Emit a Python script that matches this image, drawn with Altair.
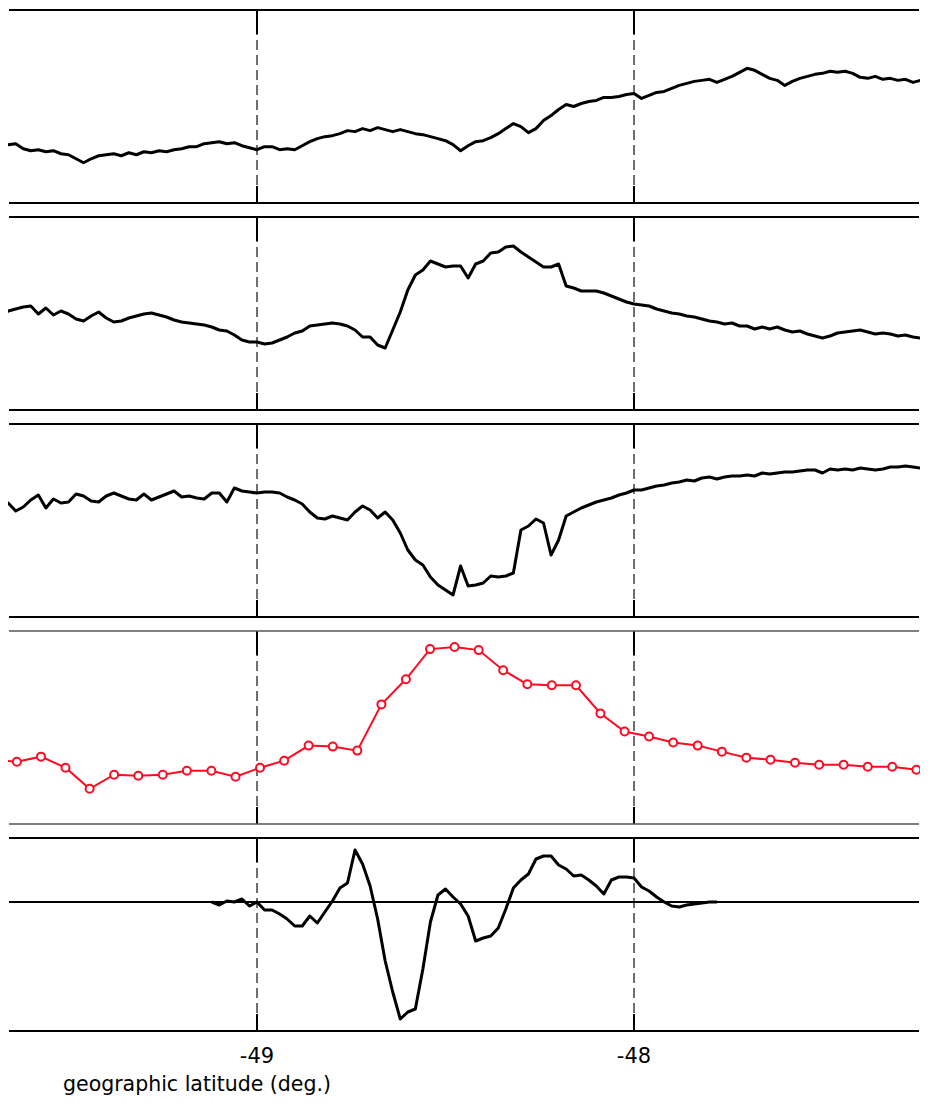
import altair as alt
import pandas as pd

# ---------------- data ----------------
# regular latitude sampling of the satellite traces (deg.)
GRID_START = -49.68
GRID_STEP = 0.02

# panel 1 (arbitrary units)
p1 = [55, 58, 59, 54, 52, 53, 51, 52, 49, 48,
      44, 40, 44, 47, 48, 49, 47, 50, 48, 51,
      50, 52, 51, 53, 54, 56, 56, 59, 60, 61,
      59, 60, 57, 55, 53, 56, 56, 53, 54, 53,
      57, 61, 64, 66, 67, 69, 72, 71, 74, 72,
      75, 73, 71, 73, 71, 69, 68, 66, 64, 62,
      58, 52, 57, 61, 62, 65, 69, 74, 79, 76,
      70, 74, 82, 87, 93, 98, 96, 99, 101, 102,
      105, 105, 106, 108, 109, 104, 107, 110, 111, 114,
      117, 119, 121, 122, 123, 120, 123, 126, 130, 134,
      132, 128, 124, 122, 117, 121, 124, 126, 128, 129,
      131, 130, 131, 129, 125, 124, 126, 123, 124, 122,
      123, 120, 122, 120]

# panel 2
p2 = [92, 99, 101, 103, 104, 96, 102, 95, 99, 96,
      91, 89, 94, 98, 92, 88, 89, 92, 94, 96,
      97, 95, 93, 90, 88, 87, 86, 85, 83, 80,
      79, 75, 70, 68, 68, 66, 67, 70, 73, 77,
      79, 84, 85, 86, 87, 86, 84, 80, 73, 73,
      65, 62, 80, 98, 120, 135, 140, 149, 146, 143,
      144, 144, 132, 146, 149, 157, 158, 163, 164, 158,
      153, 148, 143, 143, 146, 124, 122, 119, 119, 119,
      117, 114, 111, 108, 106, 105, 104, 101, 99, 97,
      96, 94, 93, 91, 89, 88, 86, 87, 84, 84,
      81, 83, 81, 83, 80, 78, 79, 76, 74, 72,
      74, 77, 78, 79, 80, 78, 76, 77, 76, 74,
      75, 73, 72, 73]

# panel 3
p3 = [115, 114, 106, 110, 117, 122, 109, 118, 114, 115,
      123, 121, 116, 115, 121, 124, 121, 118, 117, 123,
      117, 120, 123, 126, 120, 121, 119, 118, 124, 124,
      115, 129, 126, 125, 124, 125, 125, 124, 120, 117,
      113, 105, 99, 98, 101, 99, 97, 105, 111, 107,
      99, 105, 97, 84, 67, 57, 52, 40, 32, 27,
      22, 51, 31, 32, 34, 41, 40, 41, 44, 87,
      91, 98, 94, 62, 77, 101, 105, 109, 112, 115,
      117, 119, 122, 124, 127, 127, 129, 131, 132, 134,
      135, 137, 136, 139, 140, 138, 140, 141, 141, 142,
      141, 144, 143, 144, 145, 145, 146, 147, 147, 144,
      148, 147, 148, 147, 149, 148, 147, 148, 150, 150,
      151, 150, 149, 149]

# panel 4 (red, sampled points)
p4_lat = [-49.702, -49.637, -49.573, -49.508, -49.444, -49.379, -49.315, -49.250,
          -49.186, -49.121, -49.057, -48.992, -48.928, -48.863, -48.799, -48.734,
          -48.670, -48.605, -48.541, -48.476, -48.412, -48.347, -48.283, -48.218,
          -48.154, -48.089, -48.025, -47.960, -47.896, -47.831, -47.767, -47.702,
          -47.638, -47.573, -47.509, -47.444, -47.380, -47.315, -47.251]
p4_val = [64, 62, 67, 56, 35, 49, 48, 49,
          53, 53, 47, 56, 63, 78, 77, 73,
          119, 144, 174, 176, 173, 153, 139, 138,
          138, 110, 92, 87, 81, 78, 72, 66,
          64, 61, 59, 59, 57, 57, 54]

# panel 5 (signed, starts at sample index 28)
P5_START = 28
p5 = [0, -3, 1, 0, 3, -4, 0, -8, -8, -12,
      -17, -24, -24, -14, -21, -10, 1, 14, 19, 52,
      38, 16, -17, -59, -90, -117, -110, -107, -67, -20,
      7, 13, 5, -2, -14, -39, -36, -34, -26, -7,
      14, 22, 28, 43, 46, 46, 37, 33, 26, 27,
      22, 16, 8, 22, 25, 25, 24, 15, 11, 5,
      0, -4, -5, -3, -2, -1, 0, 0]

tick_values = [-49, -48]
tick_labels = ["-49", "-48"]
x_title = "geographic latitude (deg.)"

# ---------------- chart ----------------
lat_grid = [round(GRID_START + GRID_STEP * i, 2) for i in range(len(p1))]

X_DOMAIN = [-49.6605, -47.2414]
W = 912
H = 193
RED = "#ff0a22"
FONT = "DejaVu Sans"

xscale = alt.Scale(domain=X_DOMAIN, nice=False, zero=False)
ticks_df = pd.DataFrame({"lat": tick_values, "label": tick_labels})
one_df = pd.DataFrame({"v": [0]})
title_df = pd.DataFrame({"t": [x_title]})


def decorations(frame_color, frame_width):
    xenc = alt.X("lat:Q", scale=xscale, axis=None)
    dashed = alt.Chart(ticks_df).mark_rule(
        color="#222222", strokeWidth=1.3, strokeDash=[10, 5]
    ).encode(x=xenc, y=alt.value(0), y2=alt.value(H))
    top_tick = alt.Chart(ticks_df).mark_rule(color="black", strokeWidth=2).encode(
        x=xenc, y=alt.value(0), y2=alt.value(24))
    bot_tick = alt.Chart(ticks_df).mark_rule(color="black", strokeWidth=2).encode(
        x=xenc, y=alt.value(H - 17), y2=alt.value(H))
    frame_top = alt.Chart(one_df).mark_rule(
        color=frame_color, strokeWidth=frame_width
    ).encode(x=alt.value(1), x2=alt.value(W - 1), y=alt.value(0))
    frame_bot = alt.Chart(one_df).mark_rule(
        color=frame_color, strokeWidth=frame_width
    ).encode(x=alt.value(1), x2=alt.value(W - 1), y=alt.value(H))
    return [dashed, top_tick, bot_tick, frame_top, frame_bot]


def trace_panel(values, start, ydomain, extra=None):
    df = pd.DataFrame({"lat": lat_grid[start:start + len(values)], "v": values})
    line = alt.Chart(df).mark_line(
        color="black", strokeWidth=3, clip=True, strokeJoin="round"
    ).encode(
        x=alt.X("lat:Q", scale=xscale, axis=None),
        y=alt.Y("v:Q", scale=alt.Scale(domain=ydomain, nice=False, zero=False), axis=None),
    )
    layers = decorations("black", 2)
    if extra is not None:
        layers = layers + extra
    return alt.layer(*layers, line).properties(width=W, height=H)


panel1 = trace_panel(p1, 0, [0, 192])
panel2 = trace_panel(p2, 0, [0, 193])
panel3 = trace_panel(p3, 0, [0, 193])

# panel 4
df4 = pd.DataFrame({"lat": p4_lat, "v": p4_val})
y4 = alt.Y("v:Q", scale=alt.Scale(domain=[0, 192], nice=False, zero=False), axis=None)
x4 = alt.X("lat:Q", scale=xscale, axis=None)
line4 = alt.Chart(df4).mark_line(color=RED, strokeWidth=2, clip=True).encode(x=x4, y=y4)
pts4 = alt.Chart(df4).mark_point(
    shape="circle", filled=False, fill="white", fillOpacity=1, color=RED,
    size=64, strokeWidth=2, clip=True
).encode(x=x4, y=y4)
panel4 = alt.layer(*decorations("#555555", 1.5), line4, pts4).properties(width=W, height=H)

# panel 5 with tick labels and axis title as text marks
zero5 = alt.Chart(one_df).mark_rule(color="black", strokeWidth=1.8).encode(
    x=alt.value(1), x2=alt.value(W - 1),
    y=alt.Y("v:Q", scale=alt.Scale(domain=[-129, 64], nice=False, zero=False), axis=None),
)
labels5 = alt.Chart(ticks_df).mark_text(
    font=FONT, fontSize=21, color="black", baseline="middle", align="center"
).encode(x=alt.X("lat:Q", scale=xscale, axis=None), y=alt.value(H + 26), text="label:N")
title5 = alt.Chart(title_df).mark_text(
    font=FONT, fontSize=20.5, color="black", baseline="alphabetic", align="left"
).encode(x=alt.value(55), y=alt.value(H + 60), text="t:N")
panel5 = trace_panel(p5, P5_START, [-129, 64], extra=[zero5, labels5, title5])

chart = (
    alt.vconcat(panel1, panel2, panel3, panel4, panel5, spacing=12)
    .resolve_scale(y="independent")
    .configure_view(stroke=None)
    .properties(padding={"left": 0, "right": 0, "top": 1, "bottom": 0},
                background="white")
)

chart.save("out.html", embed_options={"renderer": "svg", "actions": False})
